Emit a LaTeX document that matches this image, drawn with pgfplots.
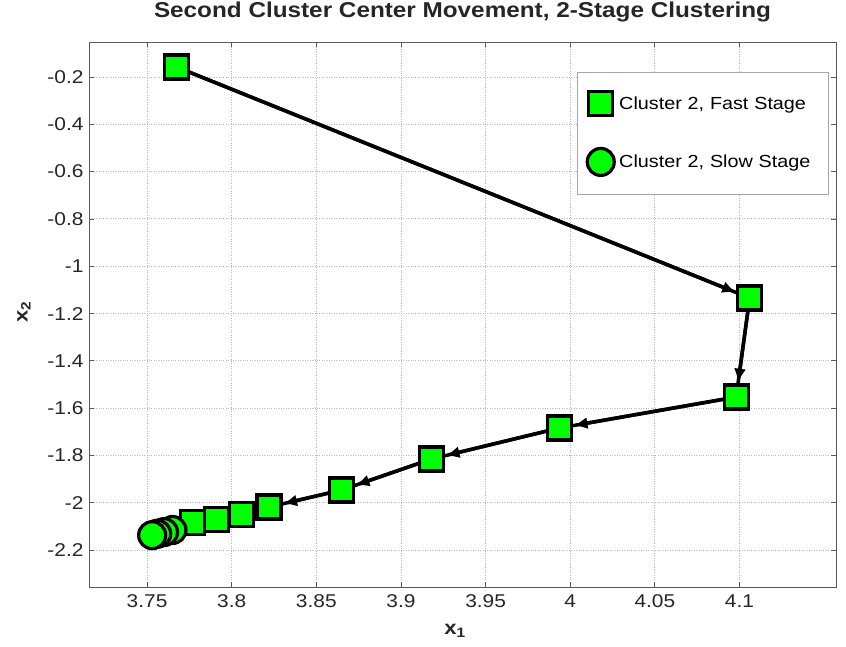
\documentclass[border=0pt]{standalone}
\usepackage{pgfplots}
\pgfplotsset{compat=1.18}
\usepackage{pgfplotstable}
\usepackage{fontspec}
\setmainfont{Liberation Sans}[FakeStretch=1.13]
\usetikzlibrary{arrows.meta}

% Fast-stage centre positions (in order of iteration)
\pgfplotstableread{
x y
3.7675 -0.158
4.106 -1.134
4.098 -1.553
3.9935 -1.684
3.918 -1.815
3.865 -1.946
3.822 -2.018
3.806 -2.048
3.791 -2.069
3.777 -2.082
}\faststage

% Slow-stage centre positions
\pgfplotstableread{
x y
3.765 -2.115
3.760 -2.124
3.756 -2.131
3.753 -2.137
}\slowstage

% Whole trajectory (fast followed by slow)
\pgfplotstableread{
x y
3.7675 -0.158
4.106 -1.134
4.098 -1.553
3.9935 -1.684
3.918 -1.815
3.865 -1.946
3.822 -2.018
3.806 -2.048
3.791 -2.069
3.777 -2.082
3.765 -2.115
3.760 -2.124
3.756 -2.131
3.753 -2.137
}\trajectory

% Steps long enough to show an arrow head: start and end of each move
\pgfplotstableread{
x y xe ye
3.7675 -0.158 4.106 -1.134
4.106 -1.134 4.098 -1.553
4.098 -1.553 3.9935 -1.684
3.9935 -1.684 3.918 -1.815
3.918 -1.815 3.865 -1.946
3.865 -1.946 3.822 -2.018
}\steps

\definecolor{markgreen}{RGB}{0,255,0}
\definecolor{axgray}{RGB}{90,90,90}

\begin{document}
\begin{tikzpicture}
\useasboundingbox (0,0) rectangle (846pt,647pt);
\begin{axis}[
  at={(89pt,60pt)}, anchor=south west,
  scale only axis,
  width=747pt, height=545pt,
  xmin=3.7157, xmax=4.157,
  ymin=-2.356, ymax=-0.052,
  xtick={3.75,3.8,3.85,3.9,3.95,4,4.05,4.1},
  xticklabels={3.75,3.8,3.85,3.9,3.95,4,4.05,4.1},
  ytick={-2.2,-2,-1.8,-1.6,-1.4,-1.2,-1,-0.8,-0.6,-0.4,-0.2},
  yticklabels={-2.2,-2,-1.8,-1.6,-1.4,-1.2,-1,-0.8,-0.6,-0.4,-0.2},
  tick align=inside,
  major tick length=5pt,
  tick style={axgray, line width=0.8pt},
  axis line style={axgray, line width=0.9pt},
  grid=major,
  major grid style={gray!55, dotted, line width=0.9pt},
  tick label style={font=\fontsize{18.5}{21}\selectfont, text=black!85},
  xticklabel style={yshift=-4pt},
  yticklabel style={xshift=-2pt},
  title={\textbf{Second Cluster Center Movement, 2-Stage Clustering}},
  title style={font=\fontsize{21.5}{24}\selectfont, at={(axis description cs:0.5,1.044)}, anchor=center, text=black!85},
  xlabel={\textbf{x}\textsubscript{\textbf{1}}},
  ylabel={\textbf{x}\textsubscript{\textbf{2}}},
  label style={font=\fontsize{19.5}{22}\selectfont, text=black!85},
  xlabel style={at={(axis description cs:0.49,-0.08)}, anchor=center},
  ylabel style={at={(axis description cs:-0.087,0.505)}, anchor=center},
  legend style={
    at={(axis description cs:0.653,0.945)}, anchor=north west,
    draw=gray!70, line width=0.9pt,
    font=\fontsize{17.5}{20}\selectfont,
    row sep=33pt,
    inner xsep=10pt, inner ysep=19pt,
    cells={anchor=west},
    /tikz/every odd column/.append style={column sep=3pt},
    /tikz/every even column/.append style={text width=197pt},
  },
  legend cell align=left,
  clip=false,
]
% underlying path through every centre
\addplot[black, line width=3.5pt, forget plot] table[x=x,y=y] {\trajectory};
% arrows for the larger moves
\addplot[black, line width=3.5pt, -{Latex[length=14pt,width=12pt]}, forget plot,
  quiver={u=\thisrow{xe}-\thisrow{x}, v=\thisrow{ye}-\thisrow{y},
          every arrow/.append style={shorten >=14.5pt}}]
  table[x=x,y=y] {\steps};
% centre markers
\addplot[only marks, mark=square*, mark size=12pt, line width=3.2pt,
  draw=black, fill=markgreen] table[x=x,y=y] {\faststage};
\addlegendentry{Cluster 2, Fast Stage}
\addplot[only marks, mark=*, mark size=13.5pt, line width=3.2pt,
  draw=black, fill=markgreen] table[x=x,y=y] {\slowstage};
\addlegendentry{Cluster 2, Slow Stage}
\end{axis}
\end{tikzpicture}
\end{document}
